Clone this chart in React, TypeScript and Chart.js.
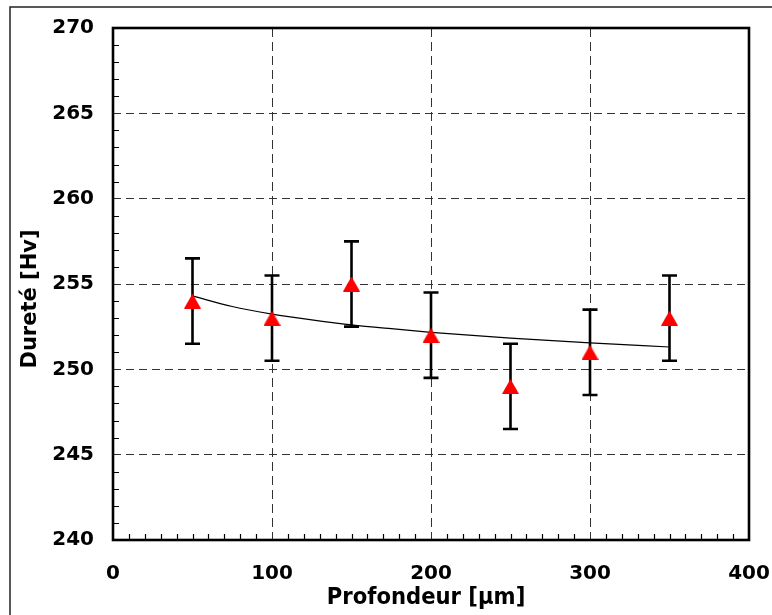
import React, { useEffect, useRef } from "react";
import { Chart, registerables } from "chart.js";
Chart.register(...registerables);

// Data
const depths = [50, 100, 150, 200, 250, 300, 350];
const hardness = [254, 253, 255, 252, 249, 251, 253];
const errors = [2.5, 2.5, 2.5, 2.5, 2.5, 2.5, 2.5];
// Trend line (logarithmic fit)
const trendX = [50, 75, 100, 125, 150, 175, 200, 250, 300, 350];
const trendY = [254.3, 253.68, 253.24, 252.9, 252.61, 252.38, 252.17, 251.83, 251.55, 251.31];

const xTitle = "Profondeur [µm]";
const yTitle = "Dureté [Hv]";

const FONT = '"DejaVu Sans", sans-serif';

function makeTriangle(): HTMLCanvasElement {
  const c = document.createElement("canvas");
  const w = 17, h = 15;
  c.width = w;
  c.height = h;
  const g = c.getContext("2d")!;
  g.fillStyle = "#ff0000";
  g.beginPath();
  g.moveTo(w / 2, 0);
  g.lineTo(w, h);
  g.lineTo(0, h);
  g.closePath();
  g.fill();
  return c;
}

const decorPlugin = {
  id: "decor",
  beforeDraw(chart: any) {
    const ctx = chart.ctx;
    ctx.save();
    ctx.fillStyle = "#ffffff";
    ctx.fillRect(0, 0, chart.width, chart.height);
    ctx.strokeStyle = "#222222";
    ctx.lineWidth = 1.5;
    ctx.strokeRect(10, 7, chart.width + 40, chart.height + 40);
    ctx.restore();
  },
  beforeDatasetsDraw(chart: any) {
    const ctx = chart.ctx;
    const xs = chart.scales.x;
    const ys = chart.scales.y;
    ctx.save();
    ctx.strokeStyle = "#000000";
    ctx.lineWidth = 2.6;
    ctx.lineCap = "butt";
    for (let i = 0; i < depths.length; i++) {
      const x = xs.getPixelForValue(depths[i]);
      const yt = ys.getPixelForValue(hardness[i] + errors[i]);
      const yb = ys.getPixelForValue(hardness[i] - errors[i]);
      ctx.beginPath();
      ctx.moveTo(x, yt);
      ctx.lineTo(x, yb);
      ctx.moveTo(x - 7.5, yt);
      ctx.lineTo(x + 7.5, yt);
      ctx.moveTo(x - 7.5, yb);
      ctx.lineTo(x + 7.5, yb);
      ctx.stroke();
    }
    ctx.restore();
  },
  afterDraw(chart: any) {
    const ctx = chart.ctx;
    const a = chart.chartArea;
    const xs = chart.scales.x;
    const ys = chart.scales.y;
    ctx.save();
    ctx.strokeStyle = "#000000";
    ctx.lineWidth = 1.2;
    ctx.beginPath();
    for (let v = 241; v < 270; v++) {
      if (v % 5 === 0) continue;
      const y = Math.round(ys.getPixelForValue(v)) + 0.5;
      ctx.moveTo(a.left, y);
      ctx.lineTo(a.left + 6, y);
    }
    for (let v = 10; v < 400; v += 10) {
      if (v % 100 === 0) continue;
      const x = Math.round(xs.getPixelForValue(v)) + 0.5;
      ctx.moveTo(x, a.bottom);
      ctx.lineTo(x, a.bottom - 6);
    }
    ctx.stroke();
    ctx.lineWidth = 2.6;
    ctx.strokeRect(a.left, a.top, a.right - a.left, a.bottom - a.top);

    // axis titles
    ctx.fillStyle = "#000000";
    ctx.textAlign = "center";
    ctx.textBaseline = "alphabetic";
    ctx.save();
    ctx.font = `bold 23px ${FONT}`;
    ctx.translate((a.left + a.right) / 2 - 5, chart.height - 11);
    ctx.scale(0.92, 1);
    ctx.fillText(xTitle, 0, 0);
    ctx.restore();
    ctx.save();
    ctx.font = `bold 21px ${FONT}`;
    ctx.translate(36, (a.top + a.bottom) / 2 + 15);
    ctx.rotate(-Math.PI / 2);
    ctx.fillText(yTitle, 0, 0);
    ctx.restore();
    ctx.restore();
  },
};

export default function App() {
  const ref = useRef<HTMLCanvasElement | null>(null);
  useEffect(() => {
    if (!ref.current) return;
    const tri = makeTriangle();
    const chart = new Chart(ref.current, {
      type: "scatter",
      data: {
        datasets: [
          {
            type: "line",
            label: "trend",
            data: trendX.map((x, i) => ({ x, y: trendY[i] })),
            borderColor: "#000000",
            borderWidth: 1.2,
            pointRadius: 0,
            cubicInterpolationMode: "monotone",
            fill: false,
            order: 2,
          } as any,
          {
            label: "Dureté",
            data: depths.map((x, i) => ({ x, y: hardness[i] })),
            pointStyle: tri,
            pointRadius: 9,
            backgroundColor: "#ff0000",
            borderColor: "#ff0000",
            order: 0,
          } as any,
        ],
      },
      options: {
        animation: false,
        responsive: false,
        layout: { autoPadding: false, padding: { left: 0, top: 28, right: 23, bottom: 0 } },
        plugins: {
          legend: { display: false },
          tooltip: { enabled: false },
        },
        scales: {
          x: {
            type: "linear",
            min: 0,
            max: 400,
            ticks: {
              stepSize: 100,
              color: "#000000",
              padding: 22,
              font: { family: FONT, size: 20, weight: "bold" },
            },
            grid: { color: "#333333", lineWidth: 1, drawTicks: false },
            border: { display: false, dash: [9, 5] },
            afterFit(scale: any) {
              scale.height = 75;
              scale.paddingLeft = 0;
              scale.paddingRight = 0;
            },
          },
          y: {
            type: "linear",
            min: 240,
            max: 270,
            ticks: {
              stepSize: 5,
              color: "#000000",
              padding: 19,
              font: { family: FONT, size: 20, weight: "bold" },
            },
            grid: { color: "#333333", lineWidth: 1, drawTicks: false },
            border: { display: false, dash: [8, 5] },
            afterFit(scale: any) {
              scale.width = 113;
              scale.paddingTop = 0;
              scale.paddingBottom = 0;
            },
          },
        },
      } as any,
      plugins: [decorPlugin],
    });
    return () => chart.destroy();
  }, []);
  return (
    <div style={{ position: "fixed", left: 0, top: 0, width: 772, height: 615 }}>
      <canvas ref={ref} width={772} height={615} style={{ display: "block" }} />
    </div>
  );
}
